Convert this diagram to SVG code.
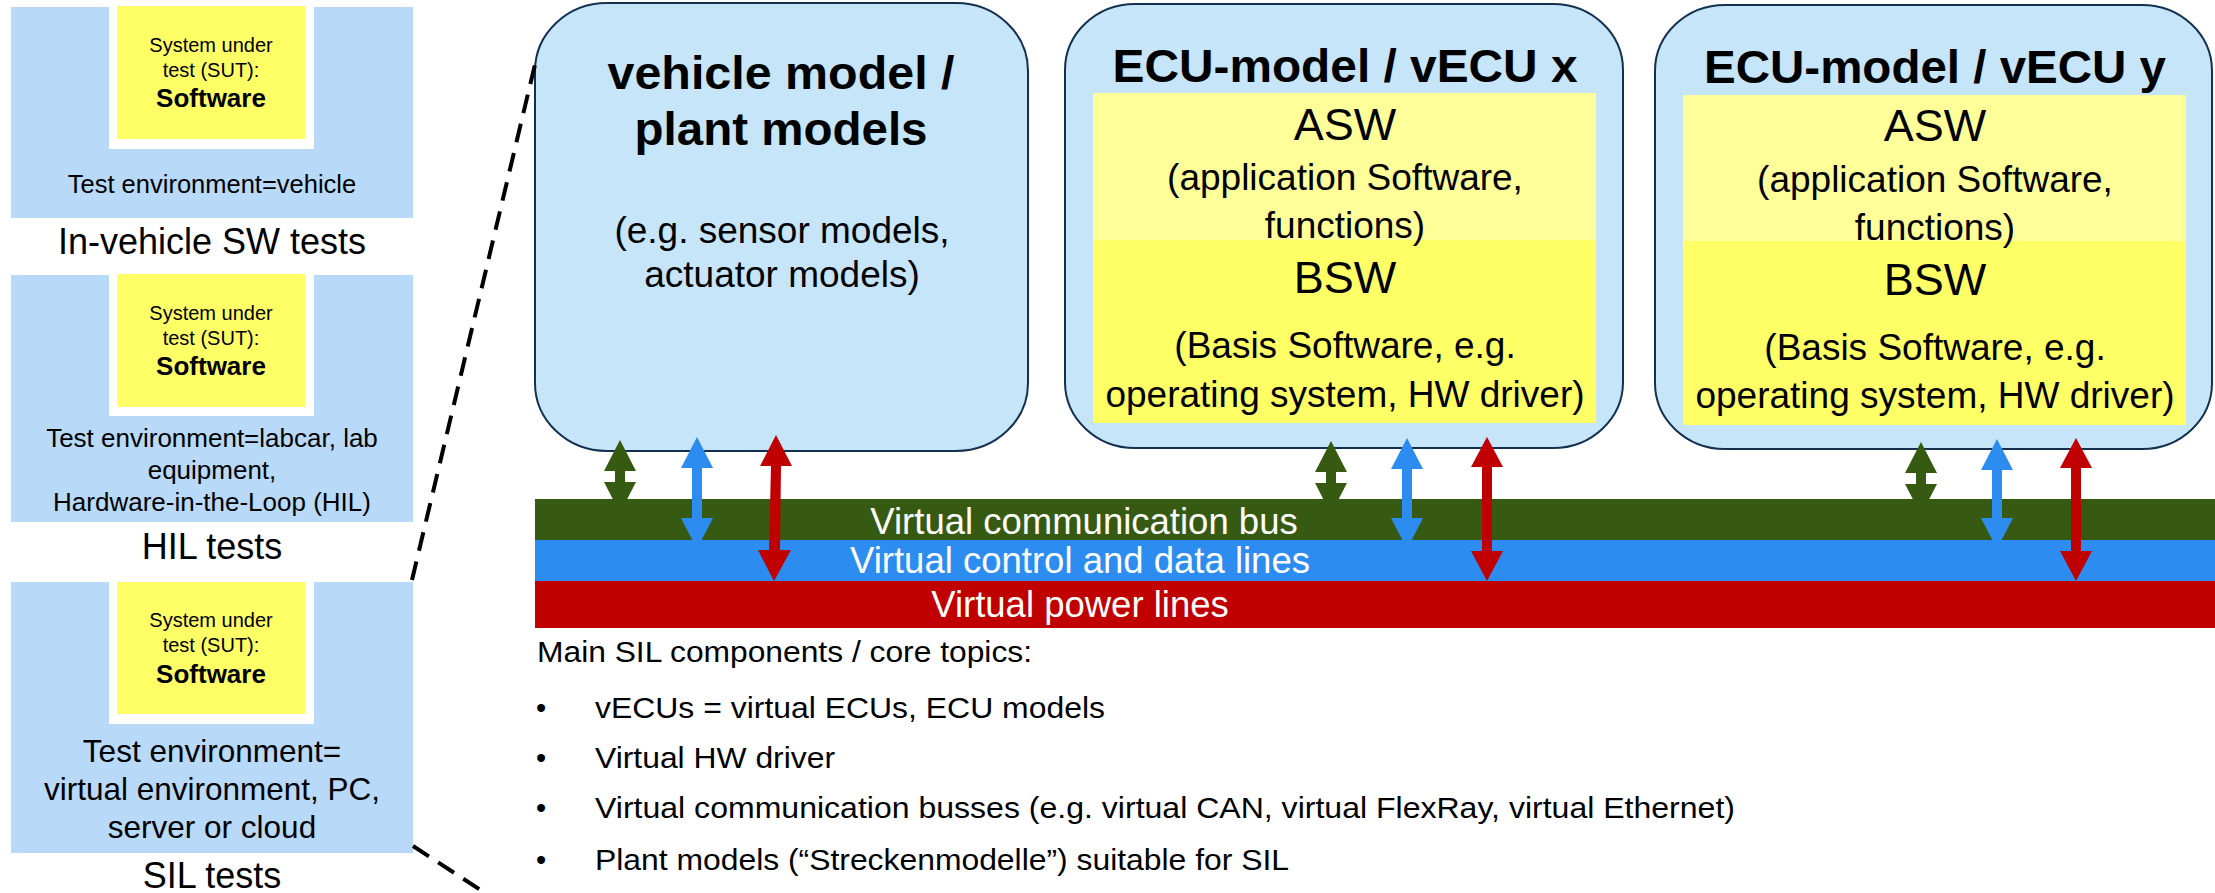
<svg xmlns="http://www.w3.org/2000/svg" width="2215" height="893" viewBox="0 0 2215 893">
  <style>
    text { font-family: "Liberation Sans", Arial, sans-serif; fill: #000; }
    .c { text-anchor: middle; }
    .b { font-weight: bold; }
    .panel { fill: #b9d9f9; }
    .notch { fill: #ffffff; }
    .sut { fill: #ffff66; }
    .box { fill: #c6e5f9; stroke: #14304f; stroke-width: 2; }
    .asw { fill: #ffff99; }
    .bsw { fill: #ffff66; }
    .sut-t { font-size: 20px; }
    .sut-b { font-size: 26px; font-weight: bold; }
    .cap { font-size: 36px; }
    .body { font-size: 37px; }
    .title { font-size: 47px; font-weight: bold; }
    .layer { font-size: 45px; }
    .bar-t { font-size: 36.5px; fill: #ffffff; text-anchor: middle; }
    .list { font-size: 29px; }
    .dash { stroke: #000; stroke-width: 4; stroke-dasharray: 19 11; fill: none; }
    .g { fill: #375a12; }
    .bl { fill: #2d8cf0; }
    .r { fill: #c00000; }
  </style>

  <!-- Left column: test levels -->
  <g id="invehicle">
    <rect class="panel" x="11" y="7" width="402" height="211"/>
    <rect class="notch" x="109" y="0" width="205" height="149"/>
    <rect class="sut" x="117" y="6" width="188" height="133"/>
    <text class="c sut-t" x="211" y="52">System under</text>
    <text class="c sut-t" x="211" y="77">test (SUT):</text>
    <text class="c sut-b" x="211" y="107">Software</text>
    <text class="c" x="212" y="193" font-size="25.5">Test environment=vehicle</text>
    <text class="c cap" x="212" y="254">In-vehicle SW tests</text>
  </g>

  <g id="hil">
    <rect class="panel" x="11" y="275" width="402" height="247"/>
    <rect class="notch" x="109" y="268" width="205" height="148"/>
    <rect class="sut" x="117" y="274" width="188" height="133"/>
    <text class="c sut-t" x="211" y="320">System under</text>
    <text class="c sut-t" x="211" y="345">test (SUT):</text>
    <text class="c sut-b" x="211" y="375">Software</text>
    <text class="c" x="212" y="447" font-size="26">Test environment=labcar, lab</text>
    <text class="c" x="212" y="479" font-size="26">equipment,</text>
    <text class="c" x="212" y="511" font-size="26">Hardware-in-the-Loop (HIL)</text>
    <text class="c cap" x="212" y="559">HIL tests</text>
  </g>

  <g id="sil">
    <rect class="panel" x="11" y="582" width="402" height="271"/>
    <rect class="notch" x="109" y="575" width="205" height="149"/>
    <rect class="sut" x="117" y="582" width="188" height="132"/>
    <text class="c sut-t" x="211" y="627">System under</text>
    <text class="c sut-t" x="211" y="652">test (SUT):</text>
    <text class="c sut-b" x="211" y="683">Software</text>
    <text class="c" x="212" y="762" font-size="31.5">Test environment=</text>
    <text class="c" x="212" y="800" font-size="31.5">virtual environment, PC,</text>
    <text class="c" x="212" y="838" font-size="31.5">server or cloud</text>
    <text class="c cap" x="212" y="888">SIL tests</text>
  </g>

  <!-- SIL set-up: models -->
  <g id="vehicle-model">
    <rect class="box" x="535" y="3" width="493" height="448" rx="72" ry="68"/>
    <text class="c title" x="781" y="89" font-size="48" textLength="347" lengthAdjust="spacingAndGlyphs">vehicle model /</text>
    <text class="c title" x="781" y="145" font-size="48" textLength="293" lengthAdjust="spacingAndGlyphs">plant models</text>
    <text class="c body" x="782" y="243">(e.g. sensor models,</text>
    <text class="c body" x="782" y="287">actuator models)</text>
  </g>

  <g id="vecu-x">
    <rect class="box" x="1065" y="4" width="558" height="444" rx="70" ry="66"/>
    <rect class="asw" x="1093" y="93" width="503" height="147"/>
    <rect class="bsw" x="1093" y="240" width="503" height="183"/>
    <text class="c title" x="1345" y="82" textLength="465" lengthAdjust="spacingAndGlyphs">ECU-model / vECU x</text>
    <text class="c layer" x="1345" y="140">ASW</text>
    <text class="c body" x="1345" y="190">(application Software,</text>
    <text class="c body" x="1345" y="238">functions)</text>
    <text class="c layer" x="1345" y="293">BSW</text>
    <text class="c body" x="1345" y="358">(Basis Software, e.g.</text>
    <text class="c body" x="1345" y="407">operating system, HW driver)</text>
  </g>

  <g id="vecu-y">
    <rect class="box" x="1655" y="5" width="557" height="444" rx="70" ry="66"/>
    <rect class="asw" x="1683" y="95" width="503" height="146"/>
    <rect class="bsw" x="1683" y="241" width="503" height="184"/>
    <text class="c title" x="1935" y="83" textLength="462" lengthAdjust="spacingAndGlyphs">ECU-model / vECU y</text>
    <text class="c layer" x="1935" y="141">ASW</text>
    <text class="c body" x="1935" y="192">(application Software,</text>
    <text class="c body" x="1935" y="240">functions)</text>
    <text class="c layer" x="1935" y="295">BSW</text>
    <text class="c body" x="1935" y="360">(Basis Software, e.g.</text>
    <text class="c body" x="1935" y="408">operating system, HW driver)</text>
  </g>

  <!-- Virtual buses / lines -->
  <g id="bus-comm">
    <rect class="g" x="535" y="499" width="1680" height="41"/>
    <text class="bar-t" x="1084" y="534">Virtual communication bus</text>
  </g>
  <g id="bus-data">
    <rect class="bl" x="535" y="540" width="1680" height="41"/>
    <text class="bar-t" x="1080" y="573">Virtual control and data lines</text>
  </g>
  <g id="bus-power">
    <rect class="r" x="535" y="581" width="1680" height="47"/>
    <text class="bar-t" x="1080" y="617">Virtual power lines</text>
  </g>

  <!-- Core topics list -->
  <g id="topics">
    <text class="list" x="537" y="662" textLength="495" lengthAdjust="spacingAndGlyphs">Main SIL components / core topics:</text>
    <text class="list" x="536" y="718">•</text>
    <text class="list" x="595" y="718" textLength="510" lengthAdjust="spacingAndGlyphs">vECUs = virtual ECUs, ECU models</text>
    <text class="list" x="536" y="768">•</text>
    <text class="list" x="595" y="768" textLength="240" lengthAdjust="spacingAndGlyphs">Virtual HW driver</text>
    <text class="list" x="536" y="818">•</text>
    <text class="list" x="595" y="818" textLength="1140" lengthAdjust="spacingAndGlyphs">Virtual communication busses (e.g. virtual CAN, virtual FlexRay, virtual Ethernet)</text>
    <text class="list" x="536" y="870">•</text>
    <text class="list" x="595" y="870" textLength="694" lengthAdjust="spacingAndGlyphs">Plant models (&#8220;Streckenmodelle&#8221;) suitable for SIL</text>
  </g>

  <!-- Connectors: zoom lines and double-headed bus links -->
  <g id="connectors">
    <line class="dash" x1="412" y1="580" x2="537" y2="56"/>
    <line class="dash" x1="413" y1="846" x2="505" y2="906"/>

    <!-- vehicle model links -->
    <polygon class="g" points="620,440 636,471 625,471 625,482 636,482 620,513 604,482 615,482 615,471 604,471"/>
    <polygon class="bl" points="697,437 713,468 702,468 702,518 713,518 697,549 681,518 692,518 692,468 681,468"/>
    <polygon class="r" points="776,435 792,466 781,466 780,550 791,550 774,581 758,550 769,550 771,466 760,466"/>

    <!-- vECU x links -->
    <polygon class="g" points="1331,441 1347,472 1336,472 1336,483 1347,483 1331,514 1315,483 1326,483 1326,472 1315,472"/>
    <polygon class="bl" points="1407,438 1423,469 1412,469 1412,518 1423,518 1407,549 1391,518 1402,518 1402,469 1391,469"/>
    <polygon class="r" points="1487,437 1503,467 1492,467 1492,551 1503,551 1487,581 1471,551 1482,551 1482,467 1471,467"/>

    <!-- vECU y links -->
    <polygon class="g" points="1921,442 1937,473 1926,473 1926,484 1937,484 1921,515 1905,484 1916,484 1916,473 1905,473"/>
    <polygon class="bl" points="1997,439 2013,470 2002,470 2002,518 2013,518 1997,549 1981,518 1992,518 1992,470 1981,470"/>
    <polygon class="r" points="2076,438 2092,468 2081,468 2081,551 2092,551 2076,581 2060,551 2071,551 2071,468 2060,468"/>
  </g>
</svg>
